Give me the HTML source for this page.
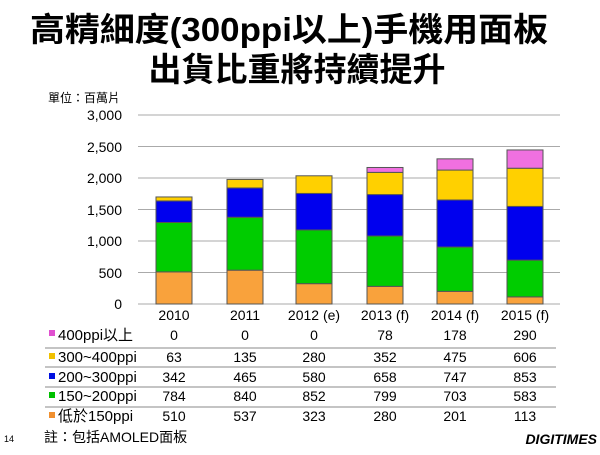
<!DOCTYPE html>
<html><head><meta charset="utf-8"><style>
body{margin:0;width:600px;height:450px;background:#fff;overflow:hidden}
svg text{font-family:"Liberation Sans","Noto Sans CJK TC",sans-serif}
</style></head><body>
<svg width="600" height="450" viewBox="0 0 600 450" xmlns="http://www.w3.org/2000/svg">
<text x="289" y="41" text-anchor="middle" font-size="33" font-weight="bold" textLength="518" lengthAdjust="spacingAndGlyphs">高精細度(300ppi以上)手機用面板</text>
<text x="297" y="81" text-anchor="middle" font-size="33" font-weight="bold">出貨比重將持續提升</text>
<text x="48" y="102" font-size="12">單位：百萬片</text>
<g stroke="#aaa" stroke-width="1">
<line x1="138" y1="115" x2="560" y2="115"/><line x1="138" y1="146.5" x2="560" y2="146.5"/>
<line x1="138" y1="178" x2="560" y2="178"/><line x1="138" y1="209.5" x2="560" y2="209.5"/>
<line x1="138" y1="241" x2="560" y2="241"/><line x1="138" y1="272.5" x2="560" y2="272.5"/>
<line x1="138" y1="304" x2="560" y2="304"/></g>
<g font-size="14" text-anchor="end">
<text x="122" y="120">3,000</text><text x="122" y="152">2,500</text><text x="122" y="183">2,000</text>
<text x="122" y="215">1,500</text><text x="122" y="246">1,000</text><text x="122" y="278">500</text><text x="122" y="309">0</text></g>
<g stroke="#555" stroke-width="1">
<rect x="156" y="271.87" width="36" height="32.13" fill="#f9a23c"/>
<rect x="156" y="222.48" width="36" height="49.39" fill="#00cc00"/>
<rect x="156" y="200.93" width="36" height="21.55" fill="#0000ee"/>
<rect x="156" y="196.96" width="36" height="3.97" fill="#ffd000"/>

<rect x="227" y="270.17" width="36" height="33.83" fill="#f9a23c"/>
<rect x="227" y="217.25" width="36" height="52.92" fill="#00cc00"/>
<rect x="227" y="187.95" width="36" height="29.3" fill="#0000ee"/>
<rect x="227" y="179.44" width="36" height="8.51" fill="#ffd000"/>

<rect x="296" y="283.65" width="36" height="20.35" fill="#f9a23c"/>
<rect x="296" y="229.97" width="36" height="53.68" fill="#00cc00"/>
<rect x="296" y="193.43" width="36" height="36.54" fill="#0000ee"/>
<rect x="296" y="175.79" width="36" height="17.64" fill="#ffd000"/>

<rect x="367" y="286.36" width="36" height="17.64" fill="#f9a23c"/>
<rect x="367" y="236.02" width="36" height="50.34" fill="#00cc00"/>
<rect x="367" y="194.57" width="36" height="41.45" fill="#0000ee"/>
<rect x="367" y="172.39" width="36" height="22.18" fill="#ffd000"/>
<rect x="367" y="167.48" width="36" height="4.91" fill="#f070e0"/>

<rect x="437" y="291.34" width="36" height="12.66" fill="#f9a23c"/>
<rect x="437" y="247.05" width="36" height="44.29" fill="#00cc00"/>
<rect x="437" y="199.99" width="36" height="47.06" fill="#0000ee"/>
<rect x="437" y="170.06" width="36" height="29.93" fill="#ffd000"/>
<rect x="437" y="158.85" width="36" height="11.21" fill="#f070e0"/>

<rect x="507" y="296.88" width="36" height="7.12" fill="#f9a23c"/>
<rect x="507" y="260.15" width="36" height="36.73" fill="#00cc00"/>
<rect x="507" y="206.41" width="36" height="53.74" fill="#0000ee"/>
<rect x="507" y="168.23" width="36" height="38.18" fill="#ffd000"/>
<rect x="507" y="149.96" width="36" height="18.27" fill="#f070e0"/>
</g>
<g font-size="14" text-anchor="middle">
<text x="174" y="320">2010</text><text x="245" y="320">2011</text><text x="314" y="320">2012 (e)</text>
<text x="385" y="320">2013 (f)</text><text x="455" y="320">2014 (f)</text><text x="525" y="320">2015 (f)</text></g>
<g stroke="#888" stroke-width="1"><line x1="45" y1="348" x2="556" y2="348"/><line x1="45" y1="367" x2="556" y2="367"/><line x1="45" y1="387" x2="556" y2="387"/><line x1="45" y1="407" x2="556" y2="407"/></g>
<g font-size="15">
<rect x="49" y="330" width="6" height="6" fill="#e050d0"/><text x="58" y="340">400ppi以上</text>
<rect x="49" y="353" width="6" height="6" fill="#f0c000"/><text x="58" y="362">300~400ppi</text>
<rect x="49" y="373" width="6" height="6" fill="#0010e0"/><text x="58" y="382">200~300ppi</text>
<rect x="49" y="392" width="6" height="6" fill="#00c000"/><text x="58" y="401">150~200ppi</text>
<rect x="49" y="412" width="6" height="6" fill="#f09030"/><text x="58" y="421">低於150ppi</text>
</g>
<g font-size="14" text-anchor="middle">
<text x="174" y="340">0</text><text x="245" y="340">0</text><text x="314" y="340">0</text><text x="385" y="340">78</text><text x="455" y="340">178</text><text x="525" y="340">290</text>
<text x="174" y="362">63</text><text x="245" y="362">135</text><text x="314" y="362">280</text><text x="385" y="362">352</text><text x="455" y="362">475</text><text x="525" y="362">606</text>
<text x="174" y="382">342</text><text x="245" y="382">465</text><text x="314" y="382">580</text><text x="385" y="382">658</text><text x="455" y="382">747</text><text x="525" y="382">853</text>
<text x="174" y="401">784</text><text x="245" y="401">840</text><text x="314" y="401">852</text><text x="385" y="401">799</text><text x="455" y="401">703</text><text x="525" y="401">583</text>
<text x="174" y="421">510</text><text x="245" y="421">537</text><text x="314" y="421">323</text><text x="385" y="421">280</text><text x="455" y="421">201</text><text x="525" y="421">113</text>
</g>
<text x="4" y="442" font-size="9">14</text>
<text x="44" y="442" font-size="14">註：包括AMOLED面板</text>
<text x="597" y="444" font-size="14" font-weight="bold" text-anchor="end" font-style="italic">DIGITIMES</text>
</svg></body></html>
